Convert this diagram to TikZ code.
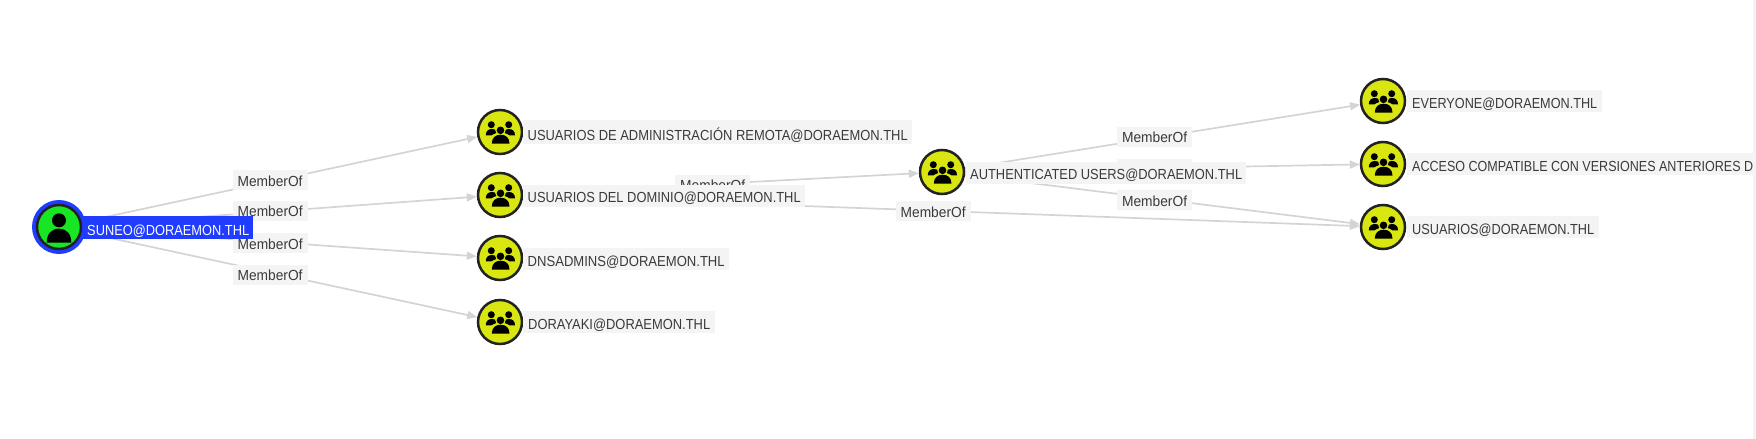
\documentclass[tikz,border=0pt]{standalone}
\usepackage{fontspec}
\setmainfont{Liberation Sans}
\usetikzlibrary{arrows.meta,backgrounds}
\definecolor{edgec}{HTML}{D4D4D4}
\definecolor{labbg}{HTML}{F4F4F4}
\definecolor{labtx}{HTML}{3A3A3A}
\definecolor{ringb}{HTML}{1F3CFF}
\definecolor{userg}{HTML}{17E625}
\definecolor{groupy}{HTML}{D9E60F}
\definecolor{strok}{HTML}{222222}
\newcommand{\fitbox}[3]{\makebox[#1pt]{\resizebox{#2pt}{\height}{#3}}}
\newcommand{\domeshape}[4]{\fill[black] (#1,#4) .. controls (#1,{#3+(#4-#3)*0.35}) and ({#1+(#2-#1)*0.2},#3) .. ({(#1+#2)/2},#3) .. controls ({#2-(#2-#1)*0.2},#3) and (#2,{#3+(#4-#3)*0.35}) .. (#2,#4) -- cycle;}
\newcommand{\mbof}{\resizebox{65pt}{\height}{MemberOf}}
\tikzset{
  x=1pt,y=-1pt,
  every node/.style={font=\fontsize{14.6}{17}\selectfont},
  grpnode/.style={circle,draw=strok,fill=groupy,line width=2.5pt,minimum size=44pt,inner sep=0pt},
  usrnode/.style={circle,draw=strok,fill=userg,line width=2.5pt,minimum size=44pt,inner sep=0pt},
  ringnode/.style={circle,fill=ringb,minimum size=54pt,inner sep=0pt},
  nlabel/.style={anchor=west,fill=labbg,text=labtx,inner xsep=0pt,inner ysep=0pt,text height=18pt,text depth=4pt},
  tlabel/.style={nlabel,text height=20.5pt,text depth=3.5pt},
  slabel/.style={nlabel,fill=ringb,text=white,text height=19pt,text depth=4pt},
  edgeline/.style={draw=edgec,line width=1.7pt,-{Triangle[length=10pt,width=8pt]}},
  elabel/.style={fill=labbg,text=labtx,inner xsep=0pt,inner ysep=0pt,text height=16pt,text depth=4pt,minimum width=75pt},
  groupicon/.pic={
    \fill[black] (-8.7,-7.3) circle (3.5);
    \fill[black] (8.7,-7.3) circle (3.5);
    \domeshape{-14.2}{-2}{-3}{3.3}
    \domeshape{3}{15}{-3}{3.3}
    \fill[groupy] (0.5,-1.7) circle (5.2);
    \fill[groupy] (0.5,8) ellipse (11 and 7.5);
    \fill[black] (0.5,-1.7) circle (3.8);
    \domeshape{-8.2}{9.5}{2.7}{11.7}
  },
  usericon/.pic={
    \fill[black] (0,-6.7) circle (7);
    \domeshape{-12.3}{12.3}{1.7}{15.7}
  }
}
\begin{document}
\begin{tikzpicture}
\useasboundingbox (0,0) rectangle (1756,439);
% source label under the ring
\node[slabel] (sl) at (83,227.5) {\fitbox{170}{162}{SUNEO@DORAEMON.THL}};
\node[ringnode] (s) at (59,227) {};
\node[usrnode] (si) at (s) {};
\pic at (s) {usericon};
% groups
\node[grpnode] (g1) at (500,132) {};
\node[grpnode] (g2) at (500,195) {};
\node[grpnode] (g3) at (500,258) {};
\node[grpnode] (g4) at (500,322) {};
\node[grpnode] (au) at (942,172) {};
\node[grpnode] (ev) at (1383,101) {};
\node[grpnode] (ac) at (1383,164) {};
\node[grpnode] (us) at (1383,227) {};
\foreach \n in {g1,g2,g3,g4,au,ev,ac,us}{\pic at (\n) {groupicon};}
% labels
\node[tlabel] (g1l) at (523,132) {\fitbox{389}{380}{USUARIOS DE ADMINISTRACIÓN REMOTA@DORAEMON.THL}};
\node[nlabel] (g2l) at (523,195.7) {\fitbox{282}{273}{USUARIOS DEL DOMINIO@DORAEMON.THL}};
\node[nlabel] (g3l) at (523,259) {\fitbox{206}{197}{DNSADMINS@DORAEMON.THL}};
\node[nlabel] (g4l) at (523,322) {\fitbox{192}{182}{DORAYAKI@DORAEMON.THL}};
\node[nlabel] (aul) at (966,172.6) {\fitbox{280}{272}{AUTHENTICATED USERS@DORAEMON.THL}};
\node[nlabel] (evl) at (1407,101) {\fitbox{195}{185}{EVERYONE@DORAEMON.THL}};
\node[nlabel] (acl) at (1407,164) {\makebox[346pt][r]{\resizebox{341pt}{\height}{ACCESO COMPATIBLE CON VERSIONES ANTERIORES D}}};
\node[nlabel] (usl) at (1407,227) {\fitbox{192}{182}{USUARIOS@DORAEMON.THL}};
% edges with labels
\begin{pgfonlayer}{background}
\draw[edgeline] (s) -- node[elabel,pos=.471,yshift=1.4pt] (e1) {\mbof} (g1);
\draw[edgeline] (s) -- node[elabel,pos=.471,yshift=.7pt] (e2) {\mbof} (g2);
\draw[edgeline] (s) -- node[elabel,pos=.471,yshift=-1.2pt] (e3) {\mbof} (g3);
\draw[edgeline] (s) -- node[elabel,pos=.471,yshift=-2.2pt] (e4) {\mbof} (g4);
\draw[edgeline] (g2) -- node[elabel,pos=.479,yshift=-1pt] (e5) {\mbof} (au);
\draw[edgeline] (g2) -- node[elabel,pos=.49,yshift=-.8pt] (e6) {\mbof} (us);
\draw[edgeline] (au) -- node[elabel,pos=.48,yshift=.8pt] (e7) {\mbof} (ev);
\draw[edgeline] (au) -- node[elabel,pos=.48,yshift=-1pt] (e8) {\mbof} (ac);
\draw[edgeline] (au) -- node[elabel,pos=.48,yshift=-1.5pt] (e9) {\mbof} (us);
\end{pgfonlayer}
\fill[labbg] (1753,0) rectangle (1756,439);
\end{tikzpicture}
\end{document}
